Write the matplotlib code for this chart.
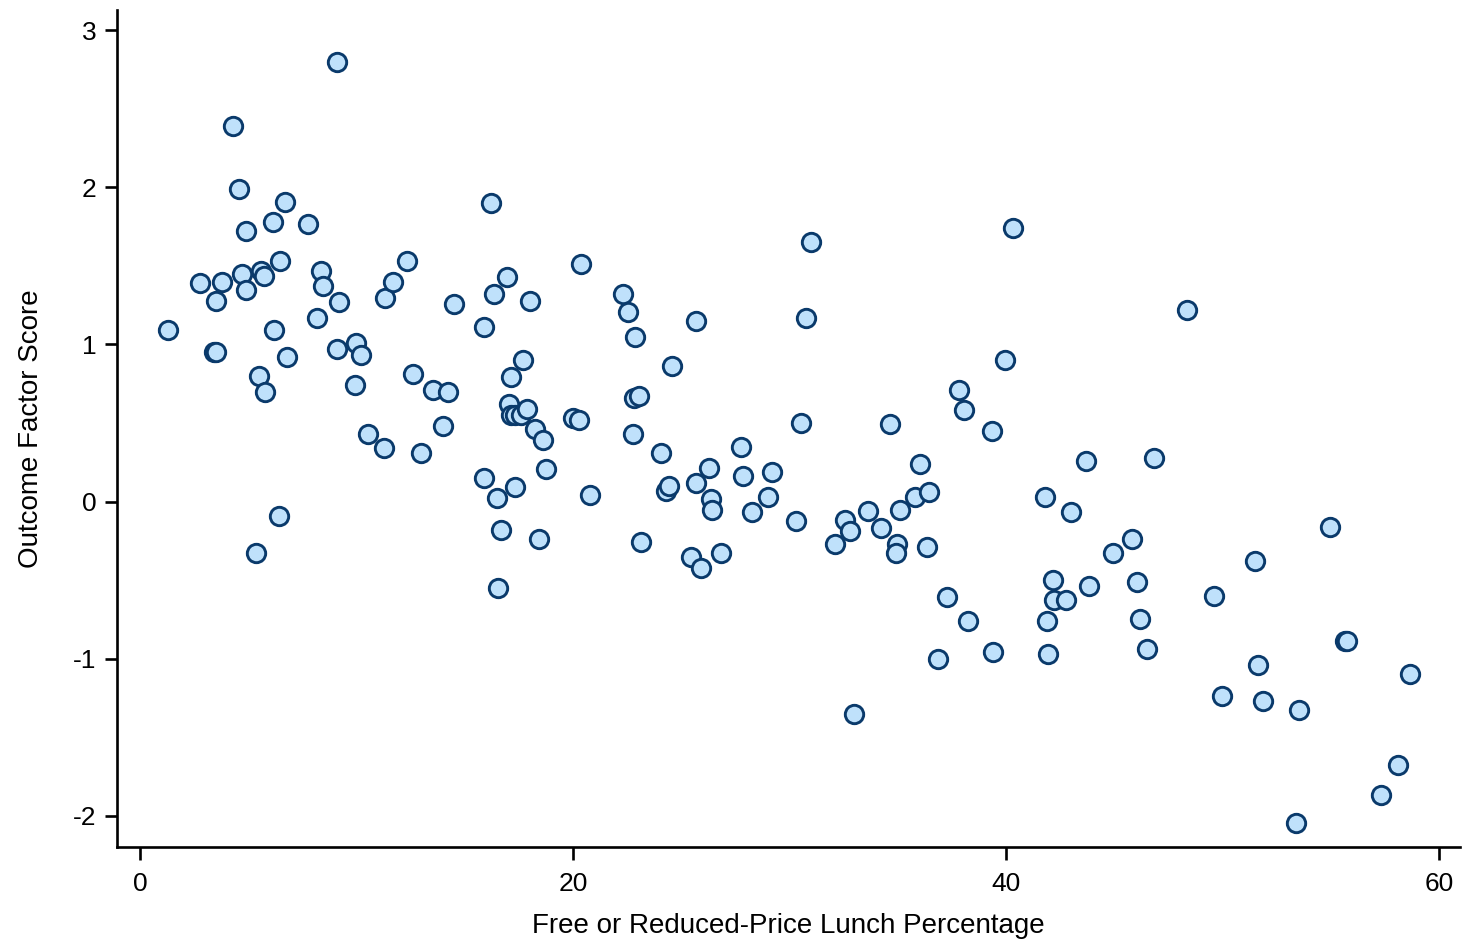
import matplotlib
matplotlib.use("Agg")
import matplotlib.pyplot as plt

# Free or Reduced-Price Lunch Percentage
frl_pct = [1.31, 2.78, 3.51, 3.78, 3.43, 3.51, 4.28, 4.58, 4.71, 4.89,
           4.88, 5.34, 5.50, 5.58, 5.73, 5.77, 6.14, 6.17, 6.40, 6.47,
           6.68, 6.78, 7.74, 8.17, 8.36, 8.46, 9.09, 9.09, 9.18, 9.97,
           9.92, 10.20, 10.55, 11.27, 11.32, 11.69, 12.35, 12.61, 12.96, 13.54,
           13.99, 14.20, 14.51, 15.87, 15.88, 16.19, 16.35, 16.47, 16.53, 16.66,
           16.96, 17.04, 17.12, 17.12, 17.30, 17.30, 17.58, 17.70, 17.89, 18.01,
           18.22, 18.42, 18.63, 18.73, 19.98, 20.25, 20.35, 20.78, 22.32, 22.53,
           22.78, 22.84, 22.81, 23.04, 23.11, 24.04, 24.27, 24.42, 24.56, 25.42,
           25.65, 25.67, 25.91, 26.27, 26.38, 26.42, 26.81, 27.77, 27.85, 28.26,
           29.00, 29.20, 30.27, 30.53, 30.73, 30.96, 32.11, 32.54, 32.80, 32.95,
           33.60, 34.22, 34.65, 34.96, 34.91, 35.11, 35.77, 36.00, 36.34, 36.45,
           36.85, 37.26, 37.80, 38.06, 38.21, 39.34, 39.39, 39.95, 40.32, 41.80,
           41.89, 41.94, 42.17, 42.21, 42.77, 43.00, 43.69, 43.83, 44.94, 45.81,
           46.04, 46.18, 46.51, 46.83, 48.35, 49.60, 49.97, 51.49, 51.63, 51.86,
           53.38, 53.52, 54.95, 55.64, 55.73, 57.30, 58.09, 58.64]

# Outcome Factor Score
outcome = [1.09, 1.39, 1.28, 1.40, 0.95, 0.955, 2.39, 1.99, 1.45, 1.72,
           1.35, -0.33, 0.80, 1.47, 1.435, 0.70, 1.78, 1.095, -0.09, 1.53,
           1.91, 0.92, 1.77, 1.17, 1.47, 1.37, 2.80, 0.97, 1.27, 1.01,
           0.74, 0.93, 0.43, 0.34, 1.295, 1.40, 1.53, 0.81, 0.31, 0.71,
           0.48, 0.70, 1.26, 1.11, 0.15, 1.90, 1.32, 0.02, -0.55, -0.18,
           1.43, 0.62, 0.79, 0.55, 0.55, 0.09, 0.55, 0.90, 0.59, 1.28,
           0.46, -0.24, 0.39, 0.21, 0.535, 0.52, 1.51, 0.04, 1.32, 1.21,
           0.43, 1.05, 0.66, 0.675, -0.26, 0.31, 0.066, 0.10, 0.86, -0.355,
           0.12, 1.15, -0.42, 0.215, 0.017, -0.055, -0.33, 0.35, 0.16, -0.066,
           0.03, 0.19, -0.125, 0.50, 1.17, 1.65, -0.27, -0.12, -0.19, -1.35,
           -0.062, -0.17, 0.495, -0.27, -0.33, -0.055, 0.03, 0.24, -0.29, 0.06,
           -1.00, -0.61, 0.71, 0.58, -0.76, 0.45, -0.96, 0.90, 1.74, 0.03,
           -0.76, -0.97, -0.50, -0.63, -0.63, -0.064, 0.255, -0.54, -0.33, -0.24,
           -0.51, -0.75, -0.94, 0.28, 1.22, -0.60, -1.24, -0.38, -1.04, -1.27,
           -2.05, -1.325, -0.16, -0.89, -0.89, -1.87, -1.68, -1.10]

x_ticks = [0, 20, 40, 60]
y_ticks = [-2, -1, 0, 1, 2, 3]
x_label = "Free or Reduced-Price Lunch Percentage"
y_label = "Outcome Factor Score"

plt.rcParams['font.family'] = ['Liberation Sans', 'DejaVu Sans']

fig = plt.figure(figsize=(14.65, 9.42), dpi=100)
ax = fig.add_axes([0.0799, 0.1008, 0.9167, 0.8886])

ax.scatter(frl_pct, outcome, s=175, facecolor='#bfe1fb', edgecolor='#0a3a6b',
           linewidths=2.1, zorder=3)

ax.set_xlim(-1.06, 60.95)
ax.set_ylim(-2.20, 3.13)
ax.set_xticks(x_ticks)
ax.set_yticks(y_ticks)
ax.set_xticklabels([str(t) for t in x_ticks])
ax.set_yticklabels([str(t) for t in y_ticks])

for side in ['top', 'right']:
    ax.spines[side].set_visible(False)
for side in ['left', 'bottom']:
    ax.spines[side].set_linewidth(1.9)
    ax.spines[side].set_color('black')

ax.tick_params(axis='both', direction='out', length=9, width=1.9,
               labelsize=19, colors='black')
ax.tick_params(axis='x', pad=9)
ax.tick_params(axis='y', pad=6)

ax.set_xlabel(x_label, fontsize=20, labelpad=12)
ax.set_ylabel(y_label, fontsize=20, labelpad=21)

fig.savefig("out.png", dpi=100)
